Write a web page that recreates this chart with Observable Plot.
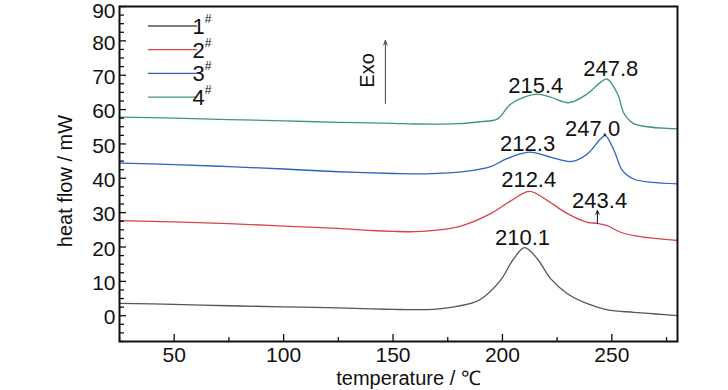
<!DOCTYPE html>
<html>
<head>
<meta charset="utf-8">
<script src="https://cdn.jsdelivr.net/npm/d3@7"></script>
<script src="https://cdn.jsdelivr.net/npm/@observablehq/plot@0.6"></script>
<style>
  html, body { margin: 0; padding: 0; background: #fff; }
  #chart svg { display: block; }
</style>
</head>
<body>
<div id="chart"></div>
<script>
// ---- data ----
const seriesNames = ["1", "2", "3", "4"];
const seriesColors = ["#555555", "#d8434f", "#2b63c1", "#3c9a6c"];

const t1 = [25, 50, 75, 100, 125, 140, 150, 160, 170, 178, 187, 191.4, 199, 205.2, 210.1, 215.9, 222, 229.7, 238.8, 248, 260, 270, 280];
const v1 = [3.6, 3.3, 2.9, 2.6, 2.3, 2.0, 1.85, 1.75, 1.95, 2.6, 3.9, 5.4, 10.2, 16.6, 19.8, 16.6, 10.8, 6.4, 3.5, 1.7, 1.0, 0.5, 0.05];

const t2 = [25, 50, 75, 100, 125, 140, 150, 160, 170, 181, 194.6, 204, 212.4, 220.6, 229.7, 238.8, 243.4, 248, 254, 263, 280];
const v2 = [27.7, 27.3, 26.8, 26.1, 25.4, 24.8, 24.55, 24.45, 24.9, 26.1, 29.7, 33.5, 36.2, 33.5, 29.7, 27.2, 26.9, 26.2, 24.3, 23.0, 21.9];

const t3 = [25, 50, 75, 100, 125, 150, 165, 184, 194.6, 202, 212.3, 222.3, 231.5, 238.8, 244.9, 247, 251, 254.8, 260, 280];
const v3 = [44.4, 44.0, 43.4, 42.7, 41.9, 41.4, 41.3, 42.1, 43.4, 45.7, 47.6, 46.1, 44.9, 47.1, 51.5, 52.4, 48.1, 42.3, 39.8, 38.4];

const t4 = [25, 50, 75, 100, 125, 150, 160, 180, 190, 197.6, 204, 215.4, 222, 230.4, 238.8, 245, 247.8, 252.6, 255.6, 260, 280];
const v4 = [57.8, 57.5, 57.1, 56.7, 56.3, 56.0, 55.8, 55.9, 56.5, 57.2, 61.7, 64.5, 63.6, 62.0, 64.6, 68.0, 68.9, 64.6, 58.8, 55.9, 54.4];

const peakLabels = ["215.4", "247.8", "212.3", "247.0", "212.4", "243.4", "210.1"];
const peakLabelX = [215.2, 249.5, 211.5, 241.2, 212.0, 244.4, 209.2];
const peakLabelY = [67.0, 71.9, 50.0, 54.5, 39.6, 33.5, 22.5];

const xTickLabels = [50, 100, 150, 200, 250];
const xMinorTicks = [25, 75, 125, 175, 225, 275];
const yTickLabels = [0, 10, 20, 30, 40, 50, 60, 70, 80, 90];
const yMinorTicks = d3.range(-7.5, 90.01, 2.5).filter(v => v % 10 !== 0);

const exoArrow = {x: 146.5, y1: 61.8, y2: 80.1};
const exoLabel = {x: 138.4, y: 71.4, text: "Exo"};
const shoulderArrow = {x: 243.4, y1: 26.8, y2: 30.6};

// ---- build tidy table ----
const allT = [t1, t2, t3, t4], allV = [v1, v2, v3, v4];
const rows = [];
allT.forEach((ts, i) => ts.forEach((t, j) => rows.push({series: seriesNames[i], t, v: allV[i][j]})));
const peaks = peakLabels.map((s, i) => ({s, x: peakLabelX[i], y: peakLabelY[i]}));
const yTop = yTickLabels[yTickLabels.length - 1];

// ---- layout ----
const W = 728, H = 390, mL = 119, mR = 51, mT = 6, mB = 49;
const innerW = W - mL - mR, innerH = H - mT - mB;
const font = "'Liberation Sans', Arial, sans-serif";

const chart = Plot.plot({
  width: W, height: H,
  marginLeft: mL, marginRight: mR, marginTop: mT, marginBottom: mB,
  style: {fontFamily: font, background: "#fff", color: "#111"},
  x: {domain: [25, 280]},
  y: {domain: [-7.5, 90]},
  color: {domain: seriesNames, range: seriesColors},
  marks: [
    Plot.line(rows, {x: "t", y: "v", z: "series", stroke: "series", curve: "catmull-rom", strokeWidth: 1.3}),
    // inward ticks
    Plot.tickX(xTickLabels, {x: d => d, insetTop: innerH - 7, stroke: "#111", strokeWidth: 1.3}),
    Plot.tickX(xMinorTicks, {x: d => d, insetTop: innerH - 4, stroke: "#111", strokeWidth: 1.3}),
    Plot.tickY(yTickLabels, {y: d => d, insetRight: innerW - 7, stroke: "#111", strokeWidth: 1.3}),
    Plot.tickY(yMinorTicks, {y: d => d, insetRight: innerW - 5, stroke: "#111", strokeWidth: 1.3}),
    Plot.axisX(xTickLabels, {tickSize: 0, tickPadding: 6, fontSize: 21, label: null}),
    Plot.axisY(yTickLabels.filter(d => d !== yTop), {tickSize: 0, tickPadding: 4, fontSize: 21, dy: 2, label: null}),
    Plot.axisY([yTop], {tickSize: 0, tickPadding: 4, fontSize: 21, dy: 5, label: null}),
    Plot.frame({stroke: "#111", strokeWidth: 2}),
    // peak labels
    Plot.text(peaks, {x: "x", y: "y", text: "s", fontSize: 22, fill: "#111"}),
    // Exo annotation
    Plot.arrow([exoArrow], {x: "x", y1: "y1", y2: "y2", stroke: "#444", strokeWidth: 1, headLength: 7, headAngle: 40}),
    Plot.text([exoLabel], {x: "x", y: "y", text: "text", rotate: -90, fontSize: 20, fill: "#111"}),
    Plot.arrow([shoulderArrow], {x: "x", y1: "y1", y2: "y2", stroke: "#111", strokeWidth: 1, headLength: 6, headAngle: 50}),
    // axis titles
    Plot.text(["temperature / ℃"], {frameAnchor: "bottom", textAnchor: "middle", lineAnchor: "middle", dy: 37, dx: 10, fontSize: 20, fill: "#111"}),
    Plot.text(["heat flow / mW"], {frameAnchor: "left", textAnchor: "middle", lineAnchor: "middle", dx: -54, dy: 7, rotate: -90, fontSize: 20, fill: "#111"})
  ]
});

document.getElementById("chart").appendChild(chart);

// ---- legend (inside plot, top-left) ----
const svg = d3.select(chart);
const lg = svg.append("g").attr("font-family", font);
seriesNames.forEach((name, i) => {
  const y = 26 + i * 23.7;
  lg.append("line").attr("x1", 148).attr("x2", 197).attr("y1", y).attr("y2", y)
    .attr("stroke", seriesColors[i]).attr("stroke-width", 1.3);
  const t = lg.append("text").attr("x", 202).attr("y", y + 8).attr("font-size", 22).attr("fill", "#111");
  t.append("tspan").text(name);
  t.append("tspan").attr("font-size", 12).attr("dy", -11).text("#");
});
</script>
</body>
</html>
